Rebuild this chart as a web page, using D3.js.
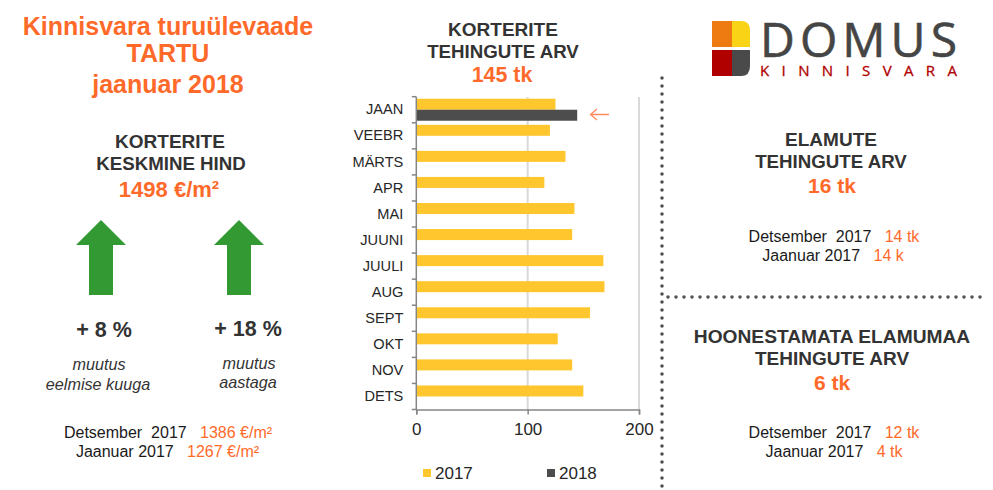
<!DOCTYPE html>
<html><head><meta charset="utf-8">
<script src="https://cdn.jsdelivr.net/npm/d3@7/dist/d3.min.js"></script>
<style>html,body{margin:0;padding:0;background:#fff}svg{display:block}text{font-family:"Liberation Sans",Arial,sans-serif}</style>
</head><body><svg id="c" width="993" height="490"></svg>
<script>
const months = ["JAAN","VEEBR","MÄRTS","APR","MAI","JUUNI","JUULI","AUG","SEPT","OKT","NOV","DETS"];
const seriesNames = ["2017","2018"];
const values2017 = [125,120,134,115,142,140,168,169,156,127,140,150];
const values2018 = [144.5,null,null,null,null,null,null,null,null,null,null,null];
const xTicks = [0,100,200];
const colors = ["#ffc62d","#4d4d4d"];
const ORANGE = "#ff6a2a", DARK = "#333333";

const textBlocks = [
 {x:168,y:35,s:25,w:"bold",c:ORANGE,t:"Kinnisvara turuülevaade"},
 {x:168,y:62,s:25,w:"bold",c:ORANGE,t:"TARTU"},
 {x:168,y:93,s:25,w:"bold",c:ORANGE,t:"jaanuar 2018"},
 {x:170,y:148,s:19,w:"bold",c:DARK,t:"KORTERITE"},
 {x:171,y:170,s:18.7,w:"bold",c:DARK,t:"KESKMINE HIND"},
 {x:169,y:197,s:22,w:"bold",c:ORANGE,t:"1498 €/m²"},
 {x:104,y:337,s:21.5,w:"bold",c:DARK,t:"+ 8 %"},
 {x:248,y:336,s:21.5,w:"bold",c:DARK,t:"+ 18 %"},
 {x:99,y:370,s:16.2,st:"italic",c:DARK,t:"muutus"},
 {x:98,y:390,s:16.2,st:"italic",c:DARK,t:"eelmise kuuga"},
 {x:249,y:369,s:16.2,st:"italic",c:DARK,t:"muutus"},
 {x:248,y:388,s:16.2,st:"italic",c:DARK,t:"aastaga"},
 {x:503,y:36,s:19,w:"bold",c:DARK,t:"KORTERITE"},
 {x:503,y:58,s:18.7,w:"bold",c:DARK,t:"TEHINGUTE ARV"},
 {x:502,y:82,s:21.4,w:"bold",c:ORANGE,t:"145 tk"},
 {x:831,y:146,s:19,w:"bold",c:DARK,t:"ELAMUTE"},
 {x:831,y:168,s:18.7,w:"bold",c:DARK,t:"TEHINGUTE ARV"},
 {x:832,y:193,s:21,w:"bold",c:ORANGE,t:"16 tk"},
 {x:832,y:343,s:19.2,w:"bold",c:DARK,t:"HOONESTAMATA ELAMUMAA"},
 {x:832,y:365,s:19,w:"bold",c:DARK,t:"TEHINGUTE ARV"},
 {x:832,y:390,s:21,w:"bold",c:ORANGE,t:"6 tk"}
];
const compareRows = [
 {x:168,y:438,a:"Detsember  2017",b:"   1386 €/m²"},
 {x:167.5,y:457,a:"Jaanuar 2017",b:"   1267 €/m²"},
 {x:834,y:242,a:"Detsember  2017",b:"   14 tk"},
 {x:833,y:261,a:"Jaanuar 2017",b:"   14 k"},
 {x:834,y:438,a:"Detsember  2017",b:"   12 tk"},
 {x:834,y:457,a:"Jaanuar 2017",b:"   4 tk"}
];
const svg = d3.select("#c");

const tg = svg.append("g").attr("text-anchor","middle");
textBlocks.forEach(d=>tg.append("text").attr("x",d.x).attr("y",d.y).attr("font-size",d.s)
  .attr("font-weight",d.w||"normal").attr("font-style",d.st||"normal").attr("fill",d.c).text(d.t));
compareRows.forEach(d=>{
  const t=tg.append("text").attr("x",d.x).attr("y",d.y).attr("font-size",16).style("white-space","pre");
  t.append("tspan").attr("fill","#1a1a1a").text(d.a);
  t.append("tspan").attr("fill",ORANGE).text(d.b);
});

// up arrows
[101,239].forEach(cx=>{
  svg.append("path").attr("fill","#339933")
   .attr("d",d3.line()([[cx,220],[cx+25,245],[cx+12,245],[cx+12,295],[cx-12,295],[cx-12,245],[cx-25,245]])+"Z");
});

// chart
const x = d3.scaleLinear().domain([0,200]).range([416.3,639]);
const y = d3.scaleBand().domain(months).range([96.7,409.5]);
const inner = d3.scaleBand().domain(seriesNames).range([0,y.bandwidth()]).paddingInner(0).paddingOuter(0.185);
const AX="#868686";

svg.append("g").selectAll("line").data(xTicks.slice(1)).join("line")
 .attr("x1",x).attr("x2",x).attr("y1",97).attr("y2",409.5).attr("stroke","#d9d9d9").attr("stroke-width",2);

[values2017,values2018].forEach((vals,i)=>{
  svg.append("g").attr("fill",colors[i]).selectAll("rect")
   .data(months.map((m,k)=>({m,v:vals[k]})).filter(d=>d.v!=null)).join("rect")
   .attr("x",x(0)).attr("y",d=>y(d.m)+inner(seriesNames[i])).attr("width",d=>x(d.v)-x(0)).attr("height",inner.bandwidth());
});

const ay = svg.append("g").attr("transform",`translate(${x(0)},0)`)
 .call(d3.axisLeft(y).tickSize(0).tickPadding(13));
ay.select(".domain").remove();
ay.selectAll("text").attr("font-size",14.6).attr("fill","#262626").style("font-family",'"Liberation Sans"');
svg.append("g").selectAll("line").data(months.map(m=>y(m)).concat([y.range()[1]])).join("line")
 .attr("x1",x(0)-4.5).attr("x2",x(0)).attr("y1",d=>d).attr("y2",d=>d).attr("stroke",AX).attr("stroke-width",1.5);
svg.append("line").attr("x1",x(0)).attr("x2",x(0)).attr("y1",96.7).attr("y2",410).attr("stroke",AX).attr("stroke-width",1.5);

const ax = svg.append("g").attr("transform",`translate(0,${y.range()[1]})`)
 .call(d3.axisBottom(x).tickValues(xTicks).tickSize(5).tickPadding(8).tickFormat(d3.format("d")));
ax.select(".domain").attr("stroke",AX).attr("stroke-width",1.5);
ax.selectAll("line").attr("stroke",AX).attr("stroke-width",1.5);
ax.selectAll("text").attr("font-size",17).attr("fill","#262626").style("font-family",'"Liberation Sans"');

// legend
seriesNames.forEach((n,i)=>{
  const lx=[423,547][i];
  svg.append("rect").attr("x",lx).attr("y",469).attr("width",8).attr("height",8).attr("fill",colors[i]);
  svg.append("text").attr("x",lx+12).attr("y",478.5).attr("font-size",17).attr("fill","#262626").text(n);
});

// pointer arrow
svg.append("path").attr("fill","none").attr("stroke","#ff8a5c").attr("stroke-width",1.3)
 .attr("d","M609,114.5H590.5M597,109L590.5,114.5L597,120");

// dotted dividers
const dots = (x1,y1,x2,y2)=>svg.append("line").attr("x1",x1).attr("y1",y1).attr("x2",x2).attr("y2",y2)
 .attr("stroke","#505050").attr("stroke-width",3.5).attr("stroke-linecap","round").attr("stroke-dasharray","0 8");
dots(662,78,662,490);
dots(668,297,985,297);

// logo
const lg = svg.append("g");
lg.append("rect").attr("x",712).attr("y",21).attr("width",25).attr("height",26).attr("fill","#ee7a12");
lg.append("path").attr("fill","#f9d316").attr("d","M732,21H741Q750,21 750,30V47H732Z");
lg.append("rect").attr("x",712).attr("y",50).attr("width",25).attr("height",26).attr("fill","#b00000");
lg.append("path").attr("fill","#4a4a4a").attr("d","M732,50H750V66Q750,76 741,76H732Z");
lg.append("text").attr("x",760).attr("y",57).attr("font-size",48).attr("fill","#454545")
 .style("font-family",'"Open Sans"').attr("stroke","#454545").attr("stroke-width",0.6).attr("textLength",197).text("DOMUS");
lg.append("text").attr("x",760).attr("y",76).attr("font-size",15).attr("fill","#b00000")
 .style("font-family",'"Open Sans"').attr("stroke","#b00000").attr("stroke-width",0.3).attr("textLength",197).text("KINNISVARA");
</script></body></html>
